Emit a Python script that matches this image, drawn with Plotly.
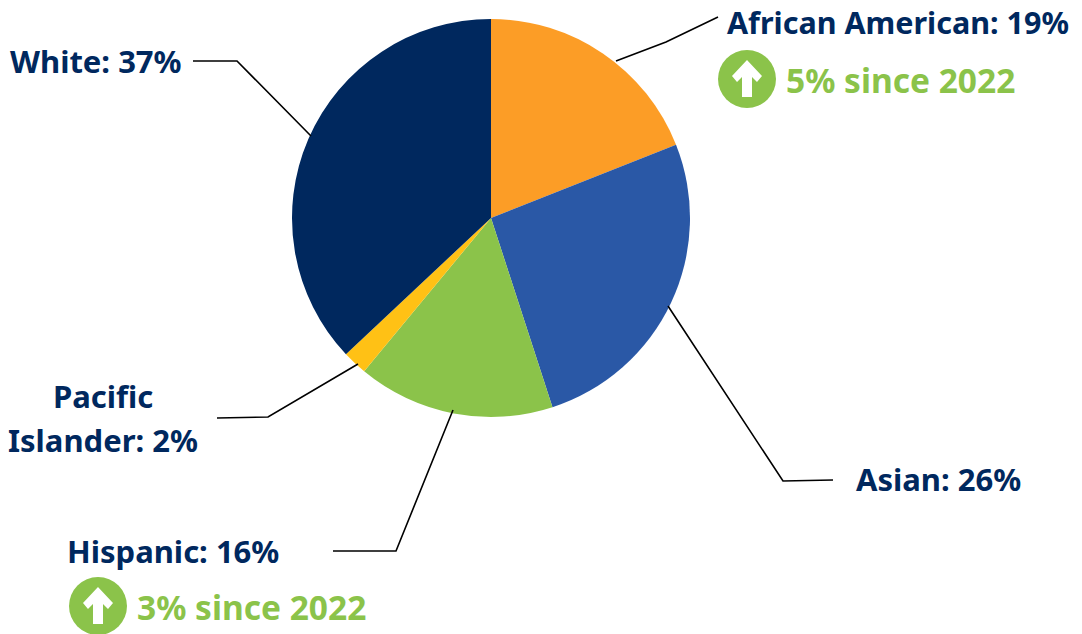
import plotly.graph_objects as go

categories = ["African American", "Asian", "Hispanic", "Pacific Islander", "White"]
shares = [19, 26, 16, 2, 37]
colors = ["#FC9D26", "#2A58A6", "#8BC34A", "#FFC115", "#00285E"]
NAVY = "#00285E"
GREEN = "#8BC34A"
W, H = 1082, 634
FONT = "Noto Sans"

def px(x): return x / W
def py(y): return 1 - y / H

fig = go.Figure(go.Pie(
    labels=categories, values=shares, sort=False, direction="clockwise", rotation=0,
    marker=dict(colors=colors, line=dict(width=0)), textinfo="none", hoverinfo="label+percent",
    domain=dict(x=[px(292), px(690)], y=[py(417), py(19)]),
))

leaders = [
    [(616, 61), (666, 42), (718, 17)],
    [(668, 306), (783, 481), (833, 480)],
    [(453, 410), (396, 551), (333, 551)],
    [(358, 364), (268, 417), (217, 418)],
    [(311, 136), (237, 61), (193, 61)],
]
shapes = []
for pts in leaders:
    path = "M " + " L ".join(f"{px(x):.5f},{py(y):.5f}" for x, y in pts)
    shapes.append(dict(type="path", path=path, xref="paper", yref="paper",
                       line=dict(color="black", width=1.6)))

def badge(cx, cy):
    r = 29
    shapes.append(dict(type="circle", xref="paper", yref="paper",
                       x0=px(cx - r), x1=px(cx + r), y0=py(cy + r), y1=py(cy - r),
                       fillcolor=GREEN, line=dict(width=0)))
    pts = [(cx, cy - 19), (cx + 15, cy - 3), (cx + 10, cy + 3), (cx + 5, cy - 2), (cx + 5, cy + 18),
           (cx - 5, cy + 18), (cx - 5, cy - 2), (cx - 10, cy + 3), (cx - 15, cy - 3)]
    path = "M " + " L ".join(f"{px(x):.5f},{py(y):.5f}" for x, y in pts) + " Z"
    shapes.append(dict(type="path", path=path, xref="paper", yref="paper",
                       fillcolor="white", line=dict(width=0)))

badge(747, 79)
badge(98, 606)

def note(x, y, text, color=NAVY, size=31, anchor="center"):
    return dict(x=px(x), y=py(y), xref="paper", yref="paper", text=text, showarrow=False,
                xanchor=anchor, yanchor="middle", align="center",
                font=dict(family=FONT, size=size, color=color, weight="bold"))

annotations = [
    note(898, 21.5, "African American: 19%", NAVY, 30.5),
    note(900, 80, "5% since 2022", GREEN, 33.5),
    note(938, 479, "Asian: 26%"),
    note(173, 551, "Hispanic: 16%"),
    note(251, 607, "3% since 2022", GREEN, 33.5),
    note(103, 396, "Pacific"),
    note(103, 440, "Islander: 2%"),
    note(96, 61, "White: 37%"),
]

fig.update_layout(width=W, height=H, margin=dict(l=0, r=0, t=0, b=0), showlegend=False,
                  paper_bgcolor="white", shapes=shapes, annotations=annotations)
fig.write_html("out.html", config=dict(displayModeBar=False),
               post_script="document.body.style.margin='0';document.body.style.overflow='hidden';")
